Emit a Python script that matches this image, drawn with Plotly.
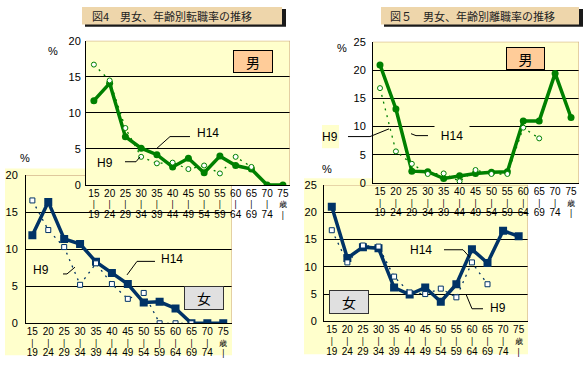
import plotly.graph_objects as go

W, H = 584, 367

# ---------------- data ----------------
age_top = ['15', '20', '25', '30', '35', '40', '45', '50', '55', '60', '65', '70', '75']
age_mid = ['|'] * 12 + ['歳']
age_bot = ['19', '24', '29', '34', '39', '44', '49', '54', '59', '64', '69', '74', '|']

# 図4 転職率 男
tm_h14 = [11.7, 14.1, 6.7, 5.1, 4.2, 2.5, 3.7, 1.7, 4.0, 2.7, 2.2, 0.0, 0.0]
tm_h9 = [16.7, 14.5, 7.9, 3.9, 3.0, 3.1, 2.2, 2.7, 1.6, 3.9, 2.5, None, None]
# 図4 転職率 女
tf_h14 = [11.9, 16.4, 11.4, 10.7, 8.3, 6.8, 5.3, 2.8, 2.9, 2.0, 0.0, 0.0, 0.0]
tf_h9 = [16.6, 12.6, 10.3, 5.2, 8.1, 5.3, 3.3, 4.1, 0.0, 0.0, 0.0, None, None]
# 図5 離職率 男
sm_h14 = [20.9, 13.1, 2.1, 2.0, 0.8, 1.3, 1.7, 1.9, 2.0, 11.0, 11.0, 19.4, 11.6]
sm_h9 = [16.8, 5.6, 3.4, 1.6, 1.7, 0.3, 2.3, 1.6, 1.6, 9.8, 7.9, None, None]
# 図5 離職率 女
sf_h14 = [21.0, 11.6, 13.6, 13.4, 6.2, 4.9, 6.2, 3.6, 6.8, 13.2, 10.7, 16.6, 15.6]
sf_h9 = [16.7, 10.8, 13.9, 13.7, 8.2, 5.3, 5.0, 6.0, 4.4, 10.8, 6.8, None, None]

yt20 = [0, 5, 10, 15, 20]
yt25 = [0, 5, 10, 15, 20, 25]

# ---------------- styles ----------------
FONT = "Noto Sans CJK JP"
LAT = "Liberation Sans"
BG = '#ffffcc'
TAN = '#c8a07a'
GREEN = '#008000'
NAVY = '#003366'


def px(x):
    return x / W


def py(y):
    return 1 - y / H


cats = list(range(len(age_top)))


def big(s, size=10):
    return f'<span style="font-size:{size}px">{s}</span>'


tick_text = []
for i in cats:
    mid = big(age_mid[i], 7.5) if i == 12 else age_mid[i]
    bot = age_bot[i] if i == 12 else big(age_bot[i])
    tick_text.append(big(age_top[i]) + '<br>' + mid + '<br>' + bot)

fig = go.Figure()


def add_series(h14, h9, color, symbol, msize, ax):
    xa, ya = ('x' + ax, 'y' + ax) if ax != '1' else ('x', 'y')
    fig.add_trace(go.Scatter(
        x=cats, y=h14, mode='lines+markers', xaxis=xa, yaxis=ya,
        line=dict(color=color, width=3.5),
        marker=dict(symbol=symbol, size=msize, color=color),
        showlegend=False, hoverinfo='skip'))
    fig.add_trace(go.Scatter(
        x=cats, y=h9, mode='lines+markers', xaxis=xa, yaxis=ya,
        line=dict(color=color, width=1.3, dash='2px,5px'),
        marker=dict(symbol=symbol, size=5, color='white',
                    line=dict(color=color, width=1)),
        showlegend=False, hoverinfo='skip', connectgaps=False))


# subplot order: 1 = B (女 転職), 2 = A cover, 3 = A (男 転職),
#                4 = D (女 離職), 5 = C cover, 6 = C (男 離職)
add_series(tf_h14, tf_h9, NAVY, 'square', 8, '1')
add_series(tm_h14, tm_h9, GREEN, 'circle', 7, '3')
add_series(sf_h14, sf_h9, NAVY, 'square', 8, '4')
add_series(sm_h14, sm_h9, GREEN, 'circle', 7, '6')

panels = {
    # key: (x0,x1,y0,y1 px), xrange, yrange, ytickvals, y standoff
    '1': ((26, 232, 175, 328), [-0.4, 12.55], [0, 20], yt20, 7),
    '3': ((86, 290, 36, 185), [-0.5, 12.45], [0, 20], yt20, 4),
    '4': ((324, 528, 185, 326), [-0.5, 12.6], [0, 25], yt25, 6),
    '6': ((373, 579, 37, 183), [-0.44, 12.5], [0, 25], yt25, 6),
}
covers = {
    '2': (67, 290, 29, 218),
    '5': (353, 579, 32, 217),
}

layout_axes = {}


def axname(k, a):
    return a + 'axis' + ('' if k == '1' else k)


for k, (box, xr, yr, ytv, ystand) in panels.items():
    x0, x1, y0, y1 = box
    layout_axes[axname(k, 'x')] = dict(
        domain=[px(x0), px(x1)], range=xr, anchor=('y' if k == '1' else 'y' + k),
        showgrid=False, zeroline=False, showline=True, linecolor='black', linewidth=1,
        tickmode='array', tickvals=cats, ticktext=tick_text, ticks='',
        ticklabelstandoff=1, tickfont=dict(family=LAT, size=8.2, color='black'),
        tickangle=0, fixedrange=True)
    layout_axes[axname(k, 'y')] = dict(
        domain=[py(y1), py(y0)], range=yr, anchor=('x' if k == '1' else 'x' + k),
        showgrid=True, gridcolor='black', gridwidth=1, zeroline=False,
        showline=True, linecolor='black', linewidth=1,
        tickmode='array', tickvals=ytv, ticks='', ticklabelstandoff=ystand - 2,
        tickfont=dict(family=LAT, size=11, color='black'), fixedrange=True)

for k, (x0, x1, y0, y1) in covers.items():
    layout_axes[axname(k, 'x')] = dict(
        domain=[px(x0), px(x1)], range=[0, 1], anchor='y' + k,
        showgrid=False, zeroline=False, showline=False, showticklabels=False,
        ticks='', fixedrange=True)
    layout_axes[axname(k, 'y')] = dict(
        domain=[py(y1), py(y0)], range=[0, 1], anchor='x' + k,
        showgrid=False, zeroline=False, showline=False, showticklabels=False,
        ticks='', fixedrange=True)

shapes = []
# yellow panel backgrounds (behind everything)
for (x0, x1, y0, y1) in [(5, 232, 168, 361), (304, 528, 178, 360), (322, 339, 123, 147)]:
    shapes.append(dict(type='rect', xref='paper', yref='paper', layer='below',
                       x0=px(x0), x1=px(x1), y0=py(y1), y1=py(y0),
                       fillcolor=BG, line=dict(width=0)))

# tan top / right frame of each plot area
for k, (box, xr, yr, ytv, ystand) in panels.items():
    xa = 'x' if k == '1' else 'x' + k
    ya = 'y' if k == '1' else 'y' + k
    shapes.append(dict(type='line', xref=xa, yref=ya, layer='between',
                       x0=xr[0], x1=xr[1], y0=yr[1], y1=yr[1],
                       line=dict(color=TAN, width=1)))
    shapes.append(dict(type='line', xref=xa, yref=ya, layer='between',
                       x0=xr[1], x1=xr[1], y0=yr[0], y1=yr[1],
                       line=dict(color=TAN, width=1)))

# title boxes with shadow
for (x0, x1) in [(82, 282), (381, 579)]:
    shapes.append(dict(type='rect', xref='paper', yref='paper', layer='above',
                       x0=px(x0 + 3), x1=px(x1 + 4), y0=py(21.5), y1=py(3),
                       fillcolor='#1a1a1a', line=dict(width=0)))
    shapes.append(dict(type='rect', xref='paper', yref='paper', layer='above',
                       x0=px(x0), x1=px(x1), y0=py(19), y1=py(1),
                       fillcolor='#eed6ab', line=dict(width=0)))


def path(points):
    d = 'M ' + ' L '.join(f'{px(x):.5f},{py(y):.5f}' for x, y in points)
    return d


leaders = [
    [(190, 135), (170, 135), (157, 147)],       # A H14
    [(125, 161), (136, 161), (140, 156)],       # A H9
    [(155, 264), (137, 264), (127, 278)],       # B H14
    [(63, 277), (67, 277), (75, 270)],          # B H9
    [(411, 132), (416, 134), (428, 134)],       # C H14
    [(348, 135), (370, 135), (389, 127)],       # C H9
    [(444, 252), (463, 252), (470, 260)],       # D H14
    [(483, 313), (472, 313), (466, 298)],       # D H9
]
for pts in leaders:
    shapes.append(dict(type='path', xref='paper', yref='paper', layer='above',
                       path=path(pts), line=dict(color='black', width=1)))

annotations = []


def txt(x, y, s, size=11, family=FONT, **kw):
    d = dict(xref='paper', yref='paper', x=px(x), y=py(y), text=s, showarrow=False,
             font=dict(family=family, size=size, color=kw.pop('color', 'black')),
             xanchor=kw.pop('xanchor', 'center'), yanchor='middle')
    d.update(kw)
    annotations.append(d)


# titles
txt(90, 10, '図4　男女、年齢別転職率の推移', size=11, xanchor='left', color='#222222')
txt(388, 10, '図５　男女、年齢別離職率の推移', size=11, xanchor='left', color='#222222')

# percent marks
txt(53, 47, '%', family=LAT)
txt(25, 157, '%', family=LAT)
txt(342, 43, '%', family=LAT)
txt(327, 169, '%', family=LAT)

# 男 / 女 boxes
txt(253, 57.5, '男', size=14, bgcolor='#ffcc99', bordercolor='black', borderwidth=1,
    width=36, height=19)
txt(525.5, 54, '男', size=14, bgcolor='#ffcc99', bordercolor='black', borderwidth=1,
    width=35, height=19)
txt(204, 301.5, '女', size=14, bgcolor='#e0e0e0', bordercolor='#333333', borderwidth=1,
    width=36, height=20)
txt(349, 306, '女', size=14, bgcolor='#e0e0e0', bordercolor='#333333', borderwidth=1,
    width=36, height=20)

# series labels
txt(208, 131, 'H14', size=12, family=LAT)
txt(105, 162, 'H9', size=12, family=LAT)
txt(172, 262, 'H14', size=12, family=LAT)
txt(41, 273, 'H9', size=12, family=LAT)
txt(452, 134, 'H14', size=12, family=LAT, bgcolor=BG, width=32, height=22)
txt(330, 135, 'H9', size=12, family=LAT)
txt(421, 252, 'H14', size=12, family=LAT)
txt(498, 312, 'H9', size=12, family=LAT)

fig.update_layout(
    width=W, height=H, margin=dict(l=0, r=0, t=0, b=0, pad=0),
    paper_bgcolor='white', plot_bgcolor=BG,
    font=dict(family=FONT, size=11, color='black'),
    showlegend=False, shapes=shapes, annotations=annotations,
    **layout_axes)

css_fix = (
    "var s=document.createElement('style');"
    "s.textContent='html,body{margin:0!important;padding:0!important;overflow:hidden;}';"
    "document.head.appendChild(s);"
    "document.body.style.margin='0px';"
)
fig.write_html("out.html", config=dict(displayModeBar=False, staticPlot=True),
               post_script=css_fix)
